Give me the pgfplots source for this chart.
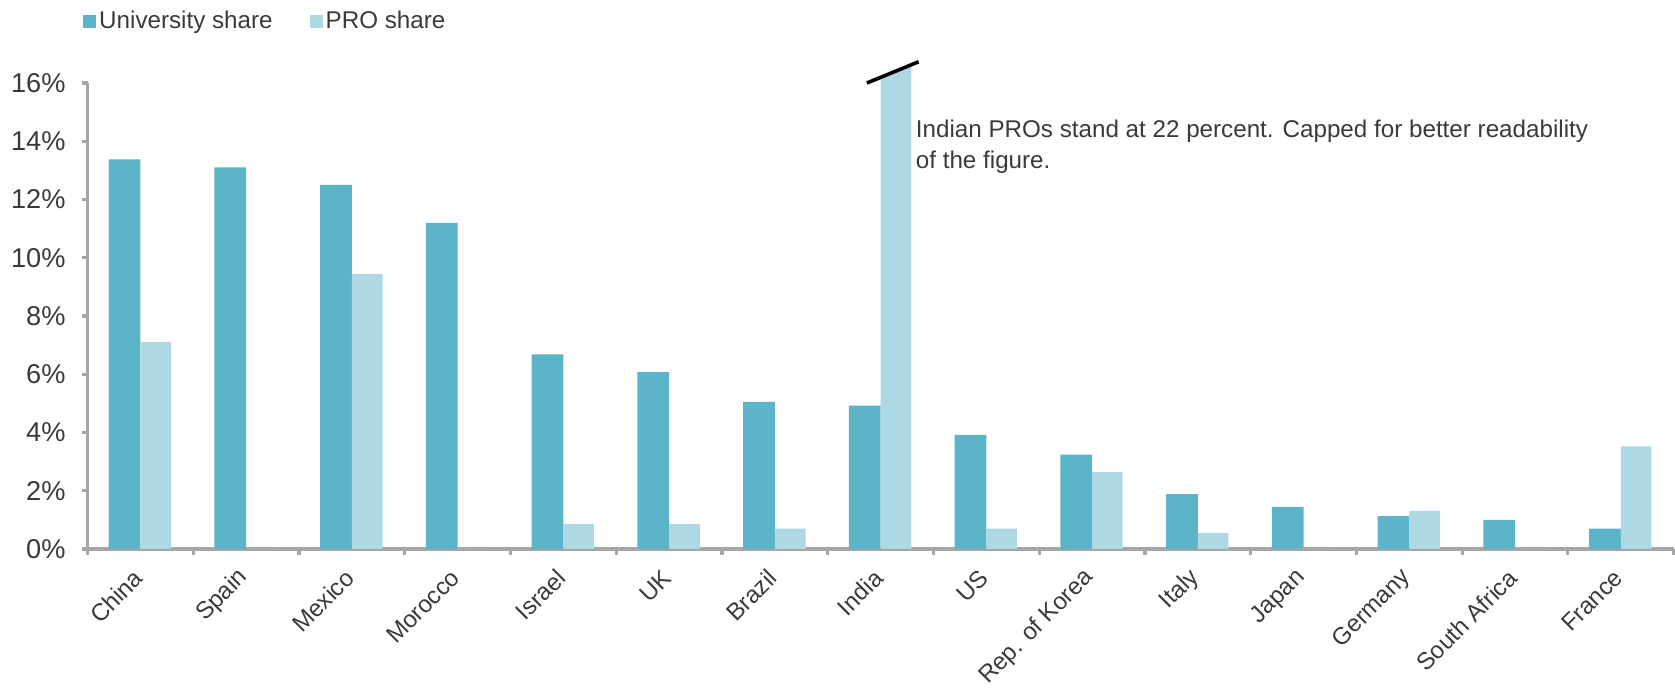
\documentclass[border=0pt]{standalone}
\usepackage{pgfplots}
\pgfplotsset{compat=1.18}
\usepackage{fontspec}
\setmainfont{Liberation Sans}
\definecolor{uni}{HTML}{5BB4C7}
\definecolor{pro}{HTML}{ADD8E4}
\definecolor{axgray}{HTML}{A6A6A6}
\definecolor{txt}{HTML}{3A3A3A}
\begin{document}
\begin{tikzpicture}
\begin{axis}[
  at={(0,0)}, anchor=south west,
  scale only axis, width=793pt, height=233pt,
  ybar,
  xmin=-0.5, xmax=14.5, ymin=0, ymax=16,
  enlargelimits=false, clip=false,
  axis x line=bottom, axis y line=left,
  axis line style={-, draw=axgray, line width=1.6pt},
  tick align=outside,
  xtick={0,...,14},
  xticklabels={China,Spain,Mexico,Morocco,Israel,UK,Brazil,India,US,Rep. of Korea,Italy,Japan,Germany,South Africa,France},
  major x tick style={draw=none},
  minor xtick={-0.5,0.5,...,14.5},
  minor x tick style={draw=axgray, line width=1.6pt},
  minor tick length=3pt,
  ytick={0,2,...,16},
  yticklabels={0\%,2\%,4\%,6\%,8\%,10\%,12\%,14\%,16\%},
  y tick style={draw=axgray, line width=1.6pt},
  major tick length=3pt,
  yticklabel style={xshift=-4.5pt, font=\fontsize{13.6}{15}\selectfont, text=txt},
  xticklabel style={rotate=45, anchor=east, yshift=-6pt, xshift=-4pt, font=\fontsize{12}{14}\selectfont, text=txt},
  legend columns=2,
  legend image code/.code={\fill[#1] (0pt,-3.25pt) rectangle (6.5pt,3.25pt);},
  legend style={draw=none, fill=none, at={(axis description cs:-0.003,1.133)}, anchor=west,
    inner sep=0pt, font=\fontsize{12.1}{14}\selectfont, text=txt,
    nodes={inner sep=1.5pt},
    /tikz/every even column/.append style={column sep=17pt}},
]
\addplot[fill=uni, draw=none, bar width=0.3, bar shift=-0.15] coordinates {
(0,13.38) (1,13.1) (2,12.5) (3,11.2) (4,6.68) (5,6.07) (6,5.05) (7,4.92) (8,3.92) (9,3.24) (10,1.88) (11,1.45) (12,1.13) (13,1.0) (14,0.7)};
\addlegendentry{University share}
\addplot[fill=pro, draw=none, bar width=0.29, bar shift=0.145] coordinates {
(0,7.1) (1,0) (2,9.45) (3,0) (4,0.85) (5,0.85) (6,0.7) (7,16.9) (8,0.7) (9,2.64) (10,0.55) (11,0) (12,1.31) (13,0) (14,3.52)};
\addlegendentry{PRO share}
\fill[white] (axis cs:6.8,15.896) -- (axis cs:7.45,16.864) -- (axis cs:7.45,17.6) -- (axis cs:6.8,17.6) -- cycle;
\draw[line width=1.8pt, black] (axis cs:6.87,16.0) -- (axis cs:7.36,16.73);
\node[anchor=north west, align=left, inner sep=0pt, text=txt, font=\fontsize{12.1}{15.5}\selectfont]
  at (axis cs:7.33,14.75) {Indian PROs stand at 22 percent. Capped for better readability\\of the figure.};
\end{axis}
\pgfresetboundingbox
\path (-43.8pt,-70.5pt) rectangle (793.7pt,274.5pt);
\end{tikzpicture}
\end{document}
